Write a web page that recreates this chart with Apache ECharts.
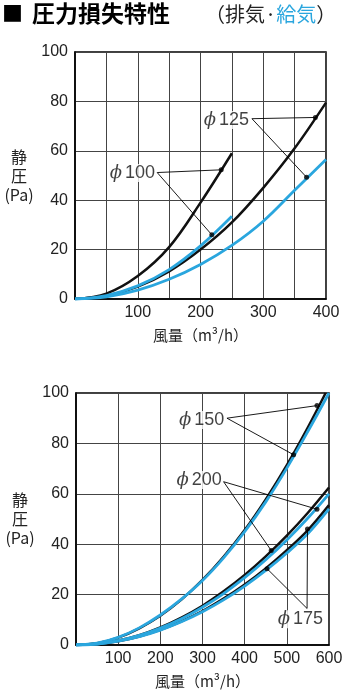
<!DOCTYPE html>
<html>
<head>
<meta charset="utf-8">
<script src="https://cdn.jsdelivr.net/npm/echarts@6/dist/echarts.min.js"></script>
<style>
  html, body { margin: 0; padding: 0; background: #fff; }
  #chart { width: 347px; height: 700px; }
</style>
</head>
<body>
<div id="chart"></div>
<script>
// ---- Upper chart: φ100 / φ125 (airflow m3/h, static pressure Pa) ----
const phi100Exhaust = [[0, 0], [50, 2.2], [100, 9.3], [150, 21], [200, 39], [250, 59]];
const phi100Supply  = [[0, 0], [50, 1.4], [100, 5.3], [150, 11.9], [200, 21.5], [250, 33.5]];
const phi125Exhaust = [[0, 0], [50, 1.3], [100, 5], [150, 11.2], [200, 20], [250, 31], [300, 45], [350, 61], [400, 79.5]];
const phi125Supply  = [[0, 0], [50, 0.9], [100, 3.6], [150, 8], [200, 14], [250, 21.7], [300, 31.5], [350, 44], [400, 56.5]];

// ---- Lower chart: φ150 / φ175 / φ200 ----
const phi150Exhaust = [[0, 0], [50, 0.7], [100, 2.9], [150, 6.6], [200, 11.6], [250, 18], [300, 25.8], [350, 35], [400, 45.6], [450, 57.8], [500, 71.4], [550, 86.4], [592, 100]];
const phi150Supply  = [[0, 0], [50, 0.7], [100, 3], [150, 6.8], [200, 11.9], [250, 18.2], [300, 25.6], [350, 34.6], [400, 45], [450, 56.8], [500, 70.2], [550, 84.8], [600, 100]];
const phi200Exhaust = [[0, 0], [50, 0.45], [100, 1.75], [150, 3.9], [200, 7], [250, 10.9], [300, 15.6], [350, 21.3], [400, 27.8], [450, 35.2], [500, 43.4], [550, 52.5], [600, 62.5]];
const phi200Supply  = [[0, 0], [50, 0.4], [100, 1.7], [150, 3.8], [200, 6.7], [250, 10.4], [300, 15], [350, 20.4], [400, 26.7], [450, 33.8], [500, 41.7], [550, 50.4], [600, 60]];
const phi175Exhaust = [[0, 0], [50, 0.4], [100, 1.5], [150, 3.4], [200, 6], [250, 9.4], [300, 13.5], [350, 18.4], [400, 24], [450, 30.4], [500, 37.6], [550, 45.6], [600, 55.5]];
const phi175Supply  = [[0, 0], [50, 0.35], [100, 1.5], [150, 3.3], [200, 5.9], [250, 9.2], [300, 13.2], [350, 17.9], [400, 23.4], [450, 29.6], [500, 36.5], [550, 44.2], [600, 54]];

// Axis ranges and ticks
const upperFlowMax = 400, upperFlowStep = 50, upperLabelStep = 100;
const lowerFlowMax = 600, lowerFlowStep = 100, lowerLabelStep = 100;
const pressureMax = 100, pressureStep = 20;

// Callouts: label text, label centre, leader start, marked points (data units)
const upperCallouts = [
  { text: '100', at: [91.6, 51], from: [131, 51.2], to: [[233, 52.3], [218, 26]] },
  { text: '125', at: [241.4, 72.5], from: [282, 73], to: [[383, 73.5], [369, 49.3]] }
];
const lowerCallouts = [
  { text: '150', at: [298, 89.3], from: [358, 90], to: [[571.5, 95], [516, 75.5]] },
  { text: '200', at: [292, 65.5], from: [350, 64.8], to: [[571.5, 53.9], [463, 37.5]] },
  { text: '175', at: [532, 10.2], from: [548, 14.5], to: [[549, 46], [453, 30.3]] }
];

const BLACK = '#111111';
const BLUE = '#2aa6de';
const NUM_FONT = '"Liberation Sans", Arial, sans-serif';
const JP_FONT = '"Noto Sans CJK JP", sans-serif';

function xAxisFor(gridIndex, max, step, labelStep) {
  return {
    type: 'value', gridIndex, min: 0, max, interval: step,
    axisLine: { show: true, lineStyle: { color: '#000', width: 1.5 } },
    axisTick: { show: false },
    splitLine: { show: true, lineStyle: { color: '#444', width: 1 } },
    axisLabel: {
      color: '#222', fontSize: 16, fontFamily: NUM_FONT, margin: 6,
      formatter: v => (v > 0 && v % labelStep === 0) ? String(v) : ''
    },
    name: '風量（m³/h）', nameLocation: 'middle', nameGap: 29,
    nameTextStyle: { color: '#222', fontSize: 15, fontFamily: JP_FONT }
  };
}
function yAxisFor(gridIndex) {
  return {
    type: 'value', gridIndex, min: 0, max: pressureMax, interval: pressureStep,
    axisLine: { show: true, lineStyle: { color: '#000', width: 1.5 } },
    axisTick: { show: false },
    splitLine: { show: true, lineStyle: { color: '#444', width: 1 } },
    axisLabel: { color: '#222', fontSize: 16, fontFamily: NUM_FONT, margin: 7 },
    name: '静\n圧\n(Pa)', nameLocation: 'middle', nameRotate: 0, nameGap: 56,
    nameTextStyle: { color: '#222', fontSize: 16, fontFamily: JP_FONT, align: 'center', verticalAlign: 'middle', lineHeight: 19 }
  };
}
function curve(data, color, width, idx) {
  return {
    type: 'line', xAxisIndex: idx, yAxisIndex: idx, data,
    smooth: 0.35, showSymbol: false, silent: true,
    lineStyle: { color, width }, z: color === BLUE ? 4 : 3
  };
}
function calloutSeries(callouts, idx) {
  const leaders = [];
  const dots = [];
  const labels = [];
  callouts.forEach(c => {
    c.to.forEach(p => { leaders.push({ coords: [c.from, p] }); dots.push(p); });
    labels.push({ value: c.at, name: c.text });
  });
  return [
    {
      type: 'lines', coordinateSystem: 'cartesian2d', xAxisIndex: idx, yAxisIndex: idx,
      data: leaders, silent: true, z: 6,
      lineStyle: { color: '#000', width: 0.9, opacity: 1 }
    },
    {
      type: 'scatter', xAxisIndex: idx, yAxisIndex: idx, data: dots,
      symbol: 'circle', symbolSize: 5, itemStyle: { color: '#000' }, silent: true, z: 7
    },
    {
      type: 'scatter', xAxisIndex: idx, yAxisIndex: idx, data: labels,
      symbolSize: 1, itemStyle: { color: 'rgba(0,0,0,0)' }, silent: true, z: 8,
      label: {
        show: true, position: 'inside',
        formatter: p => '{p|ϕ}{n|' + p.name + '}',
        backgroundColor: '#fff', padding: [0, 1],
        rich: {
          p: { fontSize: 18, fontFamily: '"DejaVu Serif", serif', fontStyle: 'italic', color: '#111', padding: [0, 3, 0, 0] },
          n: { fontSize: 18, fontFamily: NUM_FONT, color: '#111' }
        }
      }
    }
  ];
}

const chart = echarts.init(document.getElementById('chart'), null, { renderer: 'canvas' });
chart.setOption({
  animation: false,
  backgroundColor: '#fff',
  graphic: [
    {
      type: 'text', left: 2, top: 2,
      style: {
        text: '{m|■}{b|圧力損失特性}',
        rich: {
          m: { fontSize: 21, fontFamily: JP_FONT, fill: '#000', padding: [0, 9, 0, 0] },
          b: { fontSize: 23, fontWeight: 'bold', fontFamily: JP_FONT, fill: '#000' }
        }
      }
    },
    {
      type: 'text', left: 205, top: 4,
      style: {
        text: '{n|（排気·}{c|給気}{n|）}',
        rich: {
          n: { fontSize: 20, fontFamily: JP_FONT, fill: '#222' },
          c: { fontSize: 20, fontFamily: JP_FONT, fill: BLUE }
        }
      }
    }
  ],
  grid: [
    { left: 75, top: 52, width: 251, height: 247, show: true, borderColor: '#000', borderWidth: 1.5, backgroundColor: 'transparent' },
    { left: 76, top: 393, width: 253, height: 252, show: true, borderColor: '#000', borderWidth: 1.5, backgroundColor: 'transparent' }
  ],
  xAxis: [
    xAxisFor(0, upperFlowMax, upperFlowStep, upperLabelStep),
    xAxisFor(1, lowerFlowMax, lowerFlowStep, lowerLabelStep)
  ],
  yAxis: [yAxisFor(0), yAxisFor(1)],
  series: [
    curve(phi100Exhaust, BLACK, 2.5, 0),
    curve(phi125Exhaust, BLACK, 2.5, 0),
    curve(phi100Supply, BLUE, 2.8, 0),
    curve(phi125Supply, BLUE, 2.8, 0),
    ...calloutSeries(upperCallouts, 0),
    curve(phi150Exhaust, BLACK, 2.5, 1),
    curve(phi200Exhaust, BLACK, 2.5, 1),
    curve(phi175Exhaust, BLACK, 2.5, 1),
    curve(phi150Supply, BLUE, 2.8, 1),
    curve(phi200Supply, BLUE, 2.8, 1),
    curve(phi175Supply, BLUE, 2.8, 1),
    ...calloutSeries(lowerCallouts, 1)
  ]
});
</script>
</body>
</html>
